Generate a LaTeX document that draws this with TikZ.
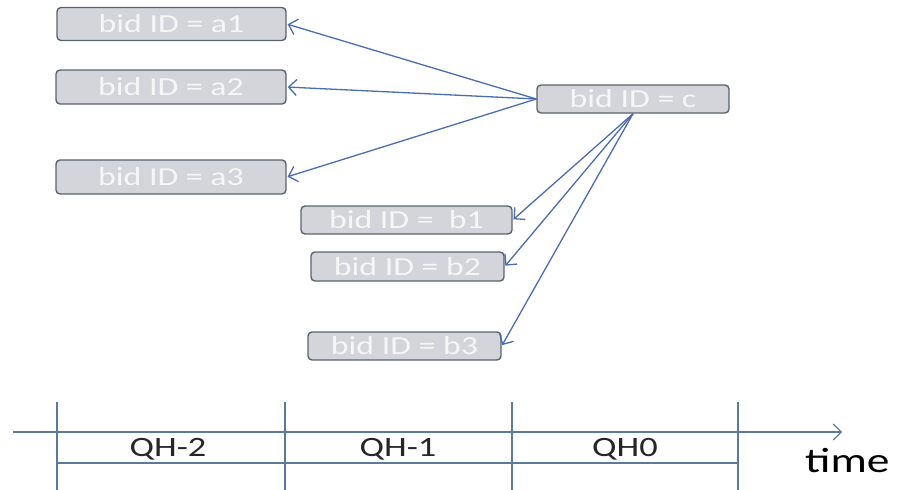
\documentclass[tikz,border=0pt]{standalone}
\usepackage{fontspec}
\setmainfont[FakeStretch=1.3]{Carlito}
\usetikzlibrary{arrows.meta}
\definecolor{boxfill}{HTML}{D3D5DA}
\definecolor{boxline}{HTML}{5B6270}
\definecolor{boxtext}{HTML}{F6F6F6}
\definecolor{arrowblue}{HTML}{4A6CB0}
\definecolor{axisblue}{HTML}{5B7A9A}
\tikzset{
  bidbox/.style={draw=boxline, fill=boxfill, line width=1.4pt, rounded corners=4pt,
    text=boxtext, inner sep=0pt, font=\fontsize{26}{26}\selectfont},
  link/.style={draw=arrowblue, line width=1.3pt, -{Straight Barb[length=8pt,width=16pt]}, shorten >=1pt},
  axis/.style={draw=axisblue, line width=1.2pt},
  qhlabel/.style={inner sep=0pt, font=\fontsize{28}{28}\selectfont, text=black!85},
}
\begin{document}
\begin{tikzpicture}[x=1pt,y=-1pt]
\useasboundingbox (0,0) rectangle (897,490);
% bid boxes
\node[bidbox, minimum width=229pt, minimum height=33pt] (a1) at (171.5,24) {bid ID = a1};
\node[bidbox, minimum width=230pt, minimum height=34pt] (a2) at (171,87) {bid ID = a2};
\node[bidbox, minimum width=230pt, minimum height=34pt] (a3) at (171,177) {bid ID = a3};
\node[bidbox, minimum width=192pt, minimum height=28pt] (c) at (633,99) {bid ID = c};
\node[bidbox, minimum width=211pt, minimum height=28pt] (b1) at (406.5,220) {bid ID =~ b1};
\node[bidbox, minimum width=193pt, minimum height=29pt] (b2) at (407.5,266.5) {bid ID = b2};
\node[bidbox, minimum width=193pt, minimum height=28pt] (b3) at (404.5,346) {bid ID = b3};
% connectors
\draw[link] (c.west) -- (a1.east);
\draw[link] (c.west) -- (a2.east);
\draw[link] (c.west) -- (a3.east);
\draw[link] (c.south) -- (b1.east);
\draw[link] (c.south) -- (b2.east);
\draw[link] (c.south) -- (b3.east);
% timeline
\coordinate (tstart) at (13,432);
\coordinate (tend) at (842,432);
\draw[axis, -{Straight Barb[length=8pt,width=16pt]}] (tstart) -- (tend);
\foreach \x in {57,285,512,738} {
  \draw[axis] (\x,402) -- (\x,490);
}
\draw[axis] (57,463) -- (738,463);
\node[qhlabel] (q2) at (168,449) {QH-2};
\node[qhlabel] (q1) at (398,449) {QH-1};
\node[qhlabel] (q0) at (625,449) {QH0};
\node[qhlabel, anchor=base west, font=\fontsize{35}{35}\selectfont, text=black] (time) at (805,472) {time};
\end{tikzpicture}
\end{document}
